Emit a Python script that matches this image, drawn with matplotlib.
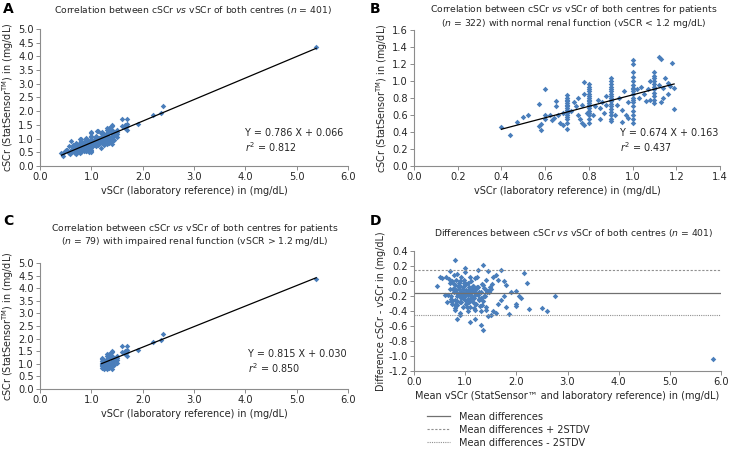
import numpy as np
import matplotlib
matplotlib.use("Agg")
import matplotlib.pyplot as plt
from matplotlib.ticker import FormatStrFormatter, MultipleLocator
from matplotlib.lines import Line2D

plt.rcParams['font.family'] = ['DejaVu Sans']
plt.rcParams['axes.unicode_minus'] = False

# panel B: patients with normal renal function (vSCr < 1.2)
b_x = [0.40, 0.44, 0.47, 0.50, 0.52, 0.57, 0.57, 0.58, 0.58, 0.60, 0.60, 0.60, 0.62, 0.63, 0.64,
       0.65, 0.65, 0.66, 0.67, 0.68, 0.68,
       0.70, 0.70, 0.70, 0.70, 0.70, 0.70, 0.70, 0.70, 0.70, 0.70, 0.70, 0.70, 0.70, 0.70, 0.70, 0.70,
       0.72, 0.73, 0.74, 0.75, 0.75, 0.76, 0.77, 0.77, 0.78, 0.78, 0.78, 0.79,
       0.80, 0.80, 0.80, 0.80, 0.80, 0.80, 0.80, 0.80, 0.80, 0.80, 0.80, 0.80, 0.80, 0.80, 0.80, 0.80, 0.80, 0.80,
       0.82, 0.83, 0.84, 0.85, 0.85, 0.86, 0.87, 0.88, 0.88,
       0.90, 0.90, 0.90, 0.90, 0.90, 0.90, 0.90, 0.90, 0.90, 0.90, 0.90, 0.90, 0.90, 0.90, 0.90, 0.90, 0.90, 0.90,
       0.92, 0.93, 0.94, 0.95, 0.95, 0.96, 0.97, 0.98, 0.98,
       1.00, 1.00, 1.00, 1.00, 1.00, 1.00, 1.00, 1.00, 1.00, 1.00, 1.00, 1.00, 1.00, 1.00, 1.00, 1.00, 1.00, 1.00,
       1.02, 1.03, 1.04, 1.05, 1.06, 1.07, 1.08, 1.08,
       1.10, 1.10, 1.10, 1.10, 1.10, 1.10, 1.10, 1.10, 1.10, 1.10, 1.10,
       1.12, 1.13, 1.12, 1.13, 1.14, 1.15, 1.16, 1.17, 1.18, 1.19, 1.19, 1.16, 1.14]
b_y = [0.46, 0.37, 0.52, 0.58, 0.60, 0.73, 0.47, 0.49, 0.42, 0.91, 0.60, 0.55, 0.60, 0.54, 0.56,
       0.77, 0.70, 0.60, 0.51, 0.62, 0.48,
       0.44, 0.50, 0.55, 0.58, 0.60, 0.62, 0.64, 0.66, 0.68, 0.70, 0.72, 0.74, 0.76, 0.78, 0.80, 0.84,
       0.65, 0.75, 0.70, 0.60, 0.80, 0.55, 0.50, 0.72, 0.99, 0.85, 0.48, 0.62,
       0.50, 0.55, 0.60, 0.62, 0.65, 0.68, 0.70, 0.72, 0.74, 0.76, 0.78, 0.80, 0.82, 0.85, 0.88, 0.90, 0.93, 0.97,
       0.60, 0.70, 0.78, 0.55, 0.68, 0.75, 0.62, 0.72, 0.82,
       0.53, 0.55, 0.60, 0.64, 0.67, 0.70, 0.73, 0.76, 0.78, 0.80, 0.82, 0.85, 0.88, 0.90, 0.93, 0.96, 1.00, 1.03,
       0.60, 0.72, 0.80, 0.52, 0.66, 0.88, 0.60, 0.56, 0.75,
       0.50, 0.55, 0.60, 0.65, 0.70, 0.75, 0.78, 0.80, 0.85, 0.88, 0.90, 0.92, 0.95, 1.00, 1.05, 1.10, 1.20, 1.25,
       0.90, 0.80, 0.93, 0.85, 0.76, 0.90, 0.78, 1.00,
       0.74, 0.78, 0.82, 0.86, 0.90, 0.93, 0.96, 1.00, 1.03, 1.06, 1.10,
       1.28, 1.26, 0.95, 0.75, 0.92, 1.03, 0.98, 0.94, 1.21, 0.92, 0.67, 0.85, 0.80]

# panel C: patients with impaired renal function (vSCr > 1.2)
c_x = [1.20, 1.20, 1.20, 1.20, 1.20, 1.20, 1.20, 1.20,
       1.25, 1.25, 1.25, 1.25, 1.25, 1.25,
       1.30, 1.30, 1.30, 1.30, 1.30, 1.30, 1.30,
       1.35, 1.35, 1.35, 1.35, 1.35,
       1.40, 1.40, 1.40, 1.40, 1.40, 1.40, 1.40, 1.40,
       1.45, 1.45, 1.45, 1.50, 1.50, 1.50, 1.50,
       1.60, 1.60, 1.65, 1.65, 1.70, 1.70, 1.70, 1.70,
       1.90, 2.20, 2.35, 2.40, 5.38]
c_y = [0.85, 0.90, 0.95, 1.00, 1.05, 1.10, 1.20, 1.25,
       0.78, 0.85, 0.92, 1.00, 1.08, 1.15,
       0.80, 0.90, 1.00, 1.10, 1.20, 1.30, 1.40,
       0.85, 0.95, 1.05, 1.25, 1.40,
       0.80, 0.90, 1.00, 1.10, 1.20, 1.30, 1.45, 1.50,
       0.95, 1.10, 1.25, 1.05, 1.15, 1.25, 1.30,
       1.45, 1.70, 1.50, 1.40, 1.30, 1.45, 1.55, 1.70,
       1.55, 1.85, 1.95, 2.20, 4.35]

# panel A: both subsets together
a_x = b_x + c_x
a_y = b_y + c_y

# panel D: Bland-Altman
d_x = [0.45, 0.50, 0.55, 0.60, 0.62, 0.65, 0.70, 0.80, 0.85, 0.90, 1.00, 1.10, 1.20, 1.30, 1.35,
       1.35, 1.25, 1.45, 1.60, 1.65, 1.70, 1.75, 1.80, 1.90, 1.85, 2.00, 2.05, 2.10, 2.00, 2.00,
       2.15, 2.20, 2.25, 2.50, 2.60, 2.75, 5.85, 1.50, 1.55, 1.60, 1.65, 1.70, 1.75, 1.80, 1.50,
       1.55, 1.40, 1.45,
       0.70, 0.72, 0.75, 0.75, 0.78, 0.78, 0.80, 0.80, 0.80, 0.82, 0.82, 0.85, 0.85, 0.85, 0.88,
       0.88, 0.90, 0.90, 0.90, 0.92, 0.92, 0.95, 0.95, 0.95, 0.98, 0.98, 1.00, 1.00, 1.00, 1.02,
       1.02, 1.05, 1.05, 1.05, 1.08, 1.08, 1.10, 1.10, 1.10, 1.12, 1.12, 1.15, 1.15, 1.15, 1.18,
       1.18, 1.20, 1.20, 1.20, 1.22, 1.25, 1.25, 1.28, 1.30, 1.30, 1.32, 1.35, 1.38, 1.40, 1.40,
       0.72, 0.76, 0.80, 0.84, 0.88, 0.92, 0.96, 1.00, 1.04, 1.08, 1.12, 1.16, 1.20, 1.24, 1.28,
       0.74, 0.79, 0.83, 0.87, 0.91, 0.97, 1.03, 1.07, 1.13, 1.17, 1.23, 1.27, 1.33, 1.37, 1.42,
       0.68, 0.73, 0.77, 0.81, 0.86, 0.93, 0.99, 1.06, 1.11, 1.19, 1.26, 1.31, 1.36, 1.44, 1.48,
       0.66, 0.71, 0.78, 0.84, 0.89, 0.94, 1.01, 1.09, 1.14, 1.21, 1.29, 1.34, 1.41, 1.46, 1.52]
d_y = [-0.07, 0.05, 0.04, -0.18, 0.06, -0.28, 0.14, 0.28, -0.50, -0.45, 0.17, -0.54, -0.50, -0.58, -0.65,
       0.21, 0.15, 0.13, 0.08, 0.02, 0.15, 0.00, -0.05, -0.15, -0.44, -0.13, -0.20, -0.22, -0.30, -0.33,
       0.11, -0.02, -0.37, -0.36, -0.40, -0.20, -1.04, -0.45, -0.40, -0.42, -0.30, -0.25, -0.20, -0.35, -0.10,
       0.05, -0.35, -0.47,
       -0.10, -0.20, 0.00, -0.30, -0.15, 0.08, -0.05, -0.25, -0.38, 0.02, -0.12, -0.20, 0.10, -0.32,
       -0.08, -0.18, 0.00, -0.28, -0.42, -0.14, 0.05, -0.10, -0.22, -0.35, 0.02, -0.16, -0.05, -0.25,
       0.12, -0.12, -0.30, -0.02, -0.18, -0.40, -0.08, -0.26, 0.06, -0.14, -0.34, -0.20, 0.00, -0.10,
       -0.28, -0.06, -0.22, -0.15, -0.38, 0.04, -0.12, -0.30, -0.18, -0.08, -0.25, -0.40, -0.15, -0.32,
       -0.05, -0.20, -0.12, 0.02, -0.24, -0.10, -0.36, -0.16, -0.02, -0.28, -0.08, -0.20, -0.34, -0.12,
       -0.22, -0.06, -0.18, 0.06, -0.14, -0.26, -0.04, -0.30, -0.10, -0.22, -0.02, -0.16, -0.28, -0.12,
       -0.36, -0.08, -0.24, -0.04, -0.20, -0.14, 0.03, -0.26, -0.10, -0.32, -0.06, -0.18, -0.02, -0.24,
       -0.12, -0.30, -0.16, -0.22, -0.09, -0.13, -0.08, -0.19, -0.03, -0.11, -0.27, -0.07, -0.21, -0.31,
       -0.17, -0.23, -0.09, -0.33, -0.26, -0.38, -0.14, -0.04]

fits = {'A': (0.786, 0.066, 0.812, 0.42, 5.38),
        'B': (0.674, 0.163, 0.437, 0.40, 1.19),
        'C': (0.815, 0.030, 0.850, 1.20, 5.38)}
mean_diff = -0.155
upper_lim = 0.15
lower_lim = -0.455

W, H = 734, 450
fig = plt.figure(figsize=(W / 100, H / 100), dpi=100)

def box(l, t, r, b):
    return [l / W, 1 - b / H, (r - l) / W, (b - t) / H]

txt = '#262626'
grey = '#8c8c8c'
blue = '#4a7ebb'
fs = 6.7      # titles / axis labels
tfs = 7.1     # tick labels

def style(ax):
    for s in ['top', 'right']:
        ax.spines[s].set_visible(False)
    for s in ['left', 'bottom']:
        ax.spines[s].set_color(grey)
        ax.spines[s].set_linewidth(0.8)
    ax.tick_params(direction='out', length=3, width=0.7, color=grey, labelsize=tfs, labelcolor=txt, pad=1.5)
    ax.yaxis.set_major_formatter(FormatStrFormatter('%.1f'))
    ax.xaxis.set_major_formatter(FormatStrFormatter('%.1f'))

ylab = r'cSCr (StatSensor$^{\mathrm{TM}}$) in (mg/dL)'
xlab = 'vSCr (laboratory reference) in (mg/dL)'

axA = fig.add_axes(box(40, 29, 348, 166))
axB = fig.add_axes(box(414, 30, 720, 166))
axC = fig.add_axes(box(40, 263, 348, 389))
axD = fig.add_axes(box(414, 251, 721, 371))

for ax, key, xs, ys in [(axA, 'A', a_x, a_y), (axB, 'B', b_x, b_y), (axC, 'C', c_x, c_y)]:
    style(ax)
    ax.scatter(xs, ys, marker='D', s=8, color=blue, linewidths=0, zorder=2)
    k, c0, r2, x0, x1 = fits[key]
    lx = np.array([x0, x1])
    ax.plot(lx, k * lx + c0, color='black', lw=0.9, zorder=3)
    ax.set_ylabel(ylab, fontsize=fs + 0.2, color=txt, labelpad=1.5)
    ax.set_xlabel(xlab, fontsize=fs + 0.3, color=txt, labelpad=3)

for ax in (axA, axC):
    ax.set_xlim(0, 6)
    ax.set_ylim(0, 5)
    ax.xaxis.set_major_locator(MultipleLocator(1))
    ax.yaxis.set_major_locator(MultipleLocator(0.5))
axB.set_xlim(0, 1.4)
axB.set_ylim(0, 1.6)
axB.xaxis.set_major_locator(MultipleLocator(0.2))
axB.yaxis.set_major_locator(MultipleLocator(0.2))

# regression text
for key, x, y in [('A', 245, 133), ('B', 620, 133), ('C', 248, 354)]:
    k, c0, r2, _, _ = fits[key]
    fig.text(x / W, 1 - y / H, 'Y = %.3f X + %.3f' % (k, c0), fontsize=fs + 0.2, color=txt, va='center')
    fig.text(x / W, 1 - (y + 14) / H, r'$\it{r}^2$ = %.3f' % r2, fontsize=fs + 0.2, color=txt, va='center')

# panel D
style(axD)
axD.scatter(d_x, d_y, marker='D', s=8, color=blue, linewidths=0, zorder=2)
axD.axhline(mean_diff, color='#707070', lw=0.9)
axD.axhline(upper_lim, color='#909090', lw=0.8, ls=(0, (2, 1.5)))
axD.axhline(lower_lim, color='#909090', lw=0.8, ls=(0, (1, 1)))
axD.set_xlim(0, 6)
axD.set_ylim(-1.2, 0.4)
axD.xaxis.set_major_locator(MultipleLocator(1))
axD.yaxis.set_major_locator(MultipleLocator(0.2))
axD.set_xlabel('Mean vSCr (StatSensor™ and laboratory reference) in (mg/dL)', fontsize=fs + 0.3, color=txt, labelpad=3)
axD.set_ylabel('Difference cSCr - vSCr in (mg/dL)', fontsize=fs + 0.2, color=txt, labelpad=2)

handles = [Line2D([], [], color='#707070', lw=0.9),
           Line2D([], [], color='#909090', lw=0.8, ls=(0, (2, 1.5))),
           Line2D([], [], color='#909090', lw=0.8, ls=(0, (1, 1)))]
fig.legend(handles, ['Mean differences', 'Mean differences + 2STDV', 'Mean differences - 2STDV'],
           loc='upper left', bbox_to_anchor=(422 / W, 1 - 407 / H), frameon=False, fontsize=fs + 0.3,
           handlelength=2.4, labelspacing=0.3, handletextpad=0.9, labelcolor=txt, borderpad=0)

# titles and panel letters
fig.text(193 / W, 1 - 10 / H, r'Correlation between cSCr $\it{vs}$ vSCr of both centres ($\it{n}$ = 401)',
         ha='center', va='center', fontsize=fs, color=txt)
fig.text(574 / W, 1 - 10 / H, r'Correlation between cSCr $\it{vs}$ vSCr of both centres for patients',
         ha='center', va='center', fontsize=fs, color=txt)
fig.text(574 / W, 1 - 24 / H, r'($\it{n}$ = 322) with normal renal function (vSCR < 1.2 mg/dL)',
         ha='center', va='center', fontsize=fs, color=txt)
fig.text(195 / W, 1 - 229 / H, r'Correlation between cSCr $\it{vs}$ vSCr of both centres for patients',
         ha='center', va='center', fontsize=fs, color=txt)
fig.text(195 / W, 1 - 242 / H, r'($\it{n}$ = 79) with impaired renal function (vSCR > 1.2 mg/dL)',
         ha='center', va='center', fontsize=fs, color=txt)
fig.text(574 / W, 1 - 233 / H, r'Differences between cSCr $\it{vs}$ vSCr of both centres ($\it{n}$ = 401)',
         ha='center', va='center', fontsize=fs, color=txt)

for lab, x, y in [('A', 3, 9), ('B', 370, 9), ('C', 3, 221), ('D', 370, 221)]:
    fig.text(x / W, 1 - y / H, lab, fontsize=10, fontweight='bold', color='black', va='center')

fig.savefig('out.png', dpi=100)
